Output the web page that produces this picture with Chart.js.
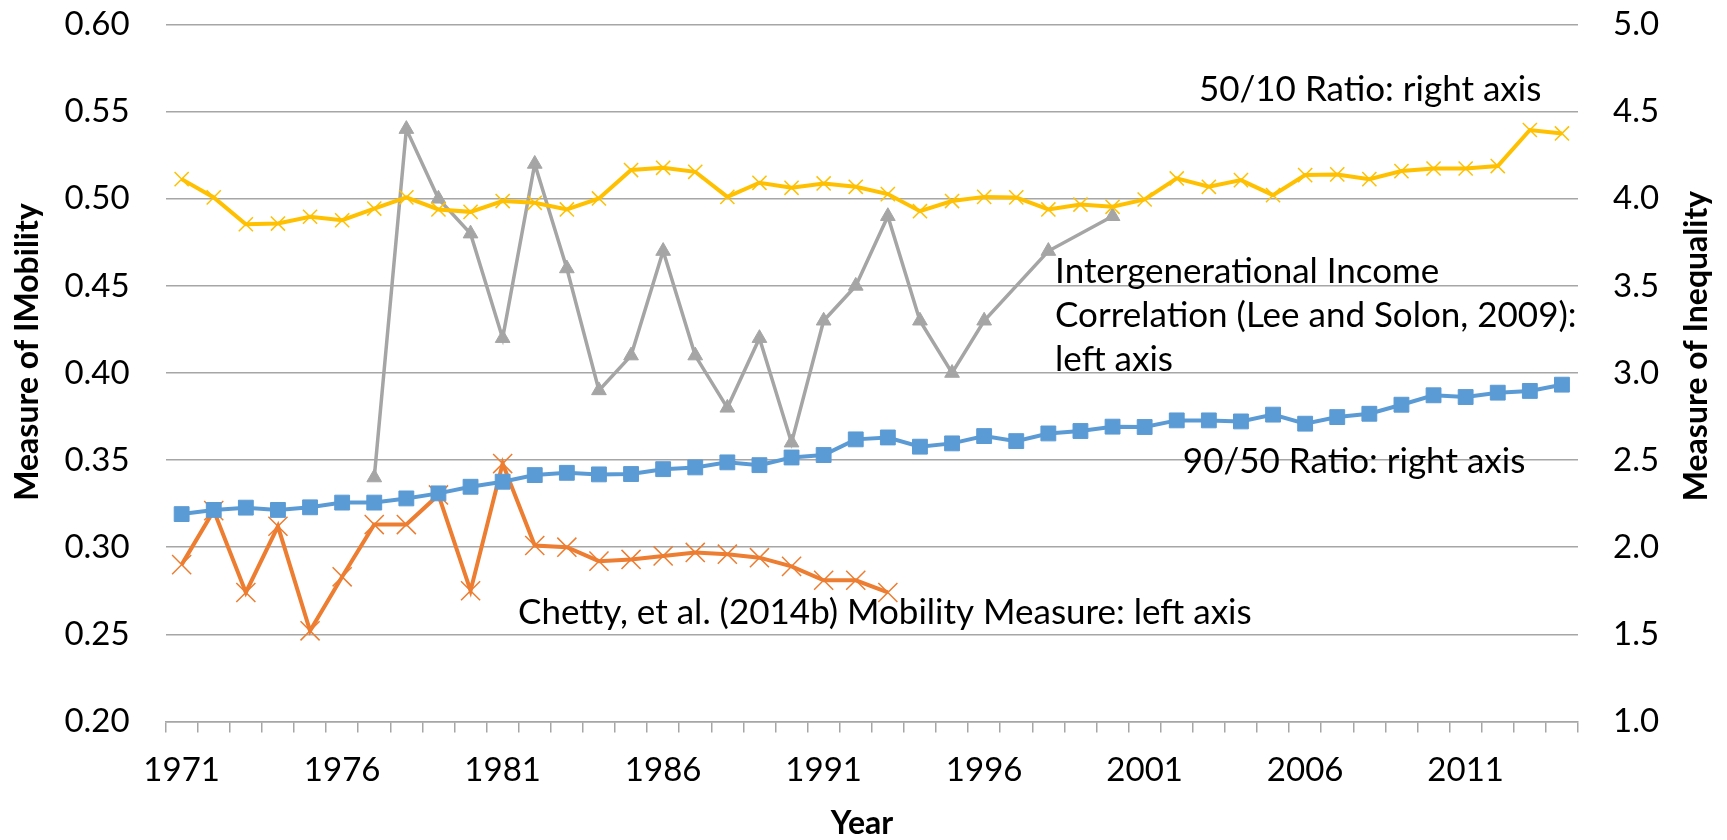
<!DOCTYPE html>
<html lang="en">
<head>
<meta charset="UTF-8">
<title>Mobility and inequality</title>
<script src="https://cdn.jsdelivr.net/npm/chart.js@4.4.1/dist/chart.umd.min.js"></script>
<style>
  html, body { margin: 0; padding: 0; background: #fff; }
  #wrap { width: 1727px; height: 840px; }
</style>
</head>
<body>
<div id="wrap"><canvas id="chart" width="1727" height="840"></canvas></div>
<script>
// values
const years = ['1971','1972','1973','1974','1975','1976','1977','1978','1979','1980',
  '1981','1982','1983','1984','1985','1986','1987','1988','1989','1990',
  '1991','1992','1993','1994','1995','1996','1997','1998','1999','2000',
  '2001','2002','2003','2004','2005','2006','2007','2008','2009','2010',
  '2011','2012','2013','2014'];

// 50/10 ratio, right axis
const ratio5010 = [4.113, 4.008, 3.854, 3.858, 3.897, 3.877, 3.944, 4.008, 3.939, 3.925,
  3.987, 3.977, 3.939, 4.002, 4.165, 4.178, 4.155, 4.011, 4.092, 4.063,
  4.088, 4.069, 4.027, 3.929, 3.987, 4.011, 4.008, 3.939, 3.967, 3.954,
  3.996, 4.117, 4.069, 4.107, 4.021, 4.136, 4.140, 4.113, 4.159, 4.174,
  4.174, 4.188, 4.395, 4.375];

// 90/50 ratio, right axis
const ratio9050 = [2.190, 2.214, 2.227, 2.214, 2.229, 2.256, 2.256, 2.280, 2.309, 2.347,
  2.376, 2.414, 2.427, 2.418, 2.420, 2.448, 2.458, 2.487, 2.471, 2.515,
  2.529, 2.619, 2.630, 2.577, 2.596, 2.638, 2.609, 2.653, 2.667, 2.692,
  2.690, 2.728, 2.728, 2.722, 2.761, 2.709, 2.747, 2.766, 2.818, 2.872,
  2.862, 2.887, 2.897, 2.933];

// Lee and Solon (2009), left axis
const leeSolon = [null, null, null, null, null, null, 0.34, 0.54, 0.50, 0.48,
  0.42, 0.52, 0.46, 0.39, 0.41, 0.47, 0.41, 0.38, 0.42, 0.36,
  0.43, 0.45, 0.49, 0.43, 0.40, 0.43, null, 0.47, null, 0.49,
  null, null, null, null, null, null, null, null, null, null,
  null, null, null, null];

// Chetty et al. (2014b), left axis
const chetty = [0.290, 0.321, 0.274, 0.312, 0.252, 0.283, 0.313, 0.313, 0.330, 0.275,
  0.348, 0.301, 0.300, 0.292, 0.293, 0.295, 0.297, 0.296, 0.294, 0.289,
  0.281, 0.281, 0.274, null, null, null, null, null, null, null,
  null, null, null, null, null, null, null, null, null, null,
  null, null, null, null];

// in-chart labels: anchored at a category index and a left-axis level (baseline)
const notes = [
  { lines: ['50/10 Ratio: right axis'], at: 31.69, level: 0.5562 },
  { lines: ['Intergenerational Income', 'Correlation (Lee and Solon, 2009):', 'left axis'], at: 27.21, level: 0.4519 },
  { lines: ['90/50 Ratio: right axis'], at: 31.19, level: 0.3425 },
  { lines: ['Chetty, et al. (2014b) Mobility Measure: left axis'], at: 10.48, level: 0.2560 }
];

const GRID = '#a6a6a6';
const FONT = 'Lato';

const notesPlugin = {
  id: 'notes',
  afterDatasetsDraw(chart) {
    const ctx = chart.ctx;
    const x = chart.scales.x, y = chart.scales.yL;
    ctx.save();
    ctx.font = '35px ' + FONT;
    ctx.fillStyle = '#000';
    ctx.textAlign = 'left';
    ctx.textBaseline = 'alphabetic';
    notes.forEach(n => {
      const px = x.getPixelForValue(n.at);
      const py = y.getPixelForValue(n.level);
      n.lines.forEach((t, i) => ctx.fillText(t, px, py + i * 44.3));
    });
    ctx.restore();
  },
  afterDraw(chart) {
    const ctx = chart.ctx;
    ctx.save();
    ctx.font = 'bold 32px ' + FONT;
    ctx.fillStyle = '#000';
    ctx.textAlign = 'center';
    ctx.textBaseline = 'middle';
    ctx.fillText('Year', 862, 824);
    [['Measure of IMobility', 28, 352], ['Measure of Inequality', 1697, 346]].forEach(([t, tx, ty]) => {
      ctx.save();
      ctx.translate(tx, ty);
      ctx.rotate(-Math.PI / 2);
      ctx.fillText(t, 0, 0);
      ctx.restore();
    });
    ctx.restore();
  }
};

function series(label, data, color, axis, style, radius, order, extra) {
  return Object.assign({
    label: label,
    data: data,
    yAxisID: axis,
    borderColor: color,
    backgroundColor: color,
    borderWidth: 4,
    pointStyle: style,
    pointRadius: radius,
    pointBorderWidth: 1.5,
    pointBorderColor: color,
    pointBackgroundColor: color,
    tension: 0,
    order: order
  }, extra || {});
}

// keep the vertical axes from pushing the plot down with their label padding
function fixWidth(w) {
  return s => { s.width = w; s.paddingTop = 0; s.paddingBottom = 0; };
}

document.fonts.load('33px ' + FONT).then(draw, draw);

function draw() {
  new Chart(document.getElementById('chart'), {
    type: 'line',
    data: {
      labels: years,
      datasets: [
        series('90/50 Ratio', ratio9050, '#5b9bd5', 'yR', 'rect', 10.5, 1, { pointBorderWidth: 1 }),
        series('Chetty, et al. (2014b)', chetty, '#ed7d31', 'yL', 'crossRot', 13.5, 3),
        series('Lee and Solon (2009)', leeSolon, '#a5a5a5', 'yL', 'triangle', 8.5, 2, { spanGaps: true, pointBorderWidth: 1, borderWidth: 3.5 }),
        series('50/10 Ratio', ratio5010, '#ffc000', 'yR', 'crossRot', 10, 0)
      ]
    },
    options: {
      responsive: false,
      devicePixelRatio: 1,
      animation: false,
      layout: { padding: { top: 24.6, left: 0, right: 0, bottom: 0 } },
      plugins: { legend: { display: false }, tooltip: { enabled: false } },
      scales: {
        x: {
          type: 'category',
          offset: true,
          afterFit: s => { s.height = 118.6; },
          border: { display: true, color: GRID, width: 1.5 },
          grid: { display: true, drawOnChartArea: false, drawTicks: true, tickLength: 11, color: GRID, lineWidth: 1.5, offset: true },
          ticks: {
            autoSkip: false, maxRotation: 0, minRotation: 0, padding: 18,
            color: '#000', font: { family: FONT, size: 33 },
            callback: (v, i) => (i % 5 === 0 ? years[i] : '')
          }
        },
        yL: {
          position: 'left',
          min: 0.2, max: 0.6,
          afterFit: fixWidth(165.6),
          border: { display: false },
          grid: { color: GRID, lineWidth: 1.5, drawTicks: false },
          ticks: {
            stepSize: 0.05, padding: 36, color: '#000', font: { family: FONT, size: 33 },
            callback: v => v.toFixed(2)
          }
        },
        yR: {
          position: 'right',
          min: 1, max: 5,
          afterFit: fixWidth(149),
          border: { display: false },
          grid: { drawOnChartArea: false, drawTicks: false },
          ticks: {
            stepSize: 0.5, padding: 35, color: '#000', font: { family: FONT, size: 33 },
            callback: v => v.toFixed(1)
          }
        }
      }
    },
    plugins: [notesPlugin]
  });
}
</script>
</body>
</html>
